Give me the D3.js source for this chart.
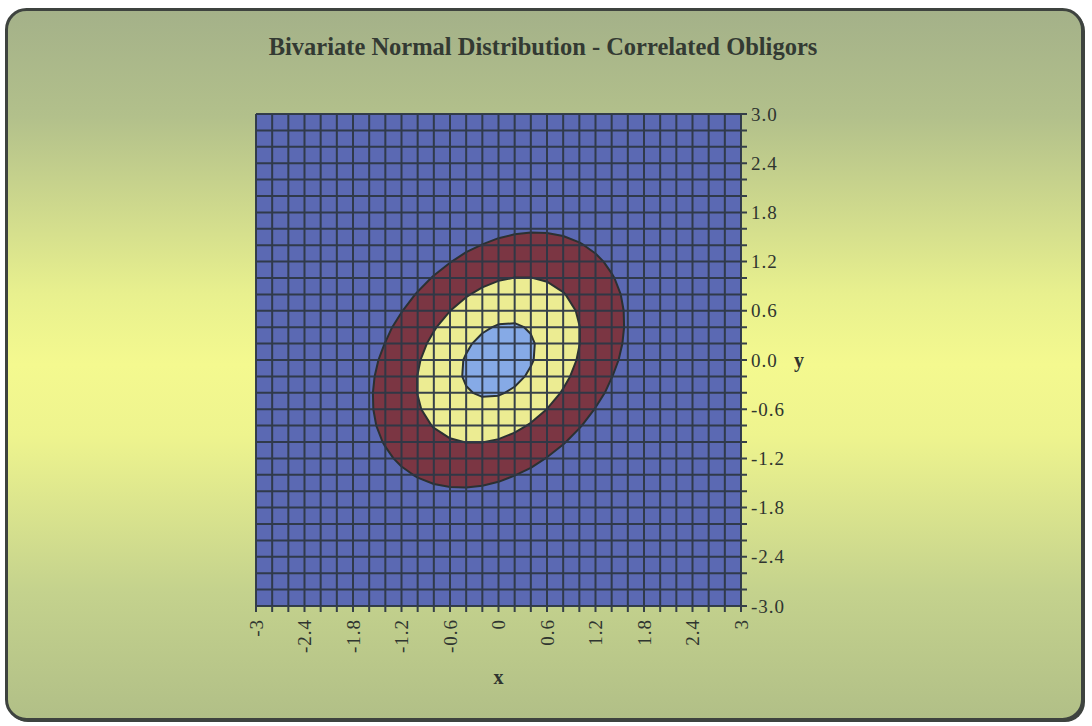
<!DOCTYPE html>
<html>
<head>
<meta charset="utf-8">
<script src="https://cdn.jsdelivr.net/npm/d3@7"></script>
<style>
  html, body { margin: 0; padding: 0; background: #ffffff; }
  svg { display: block; }
</style>
</head>
<body>
<svg id="chart" width="1092" height="726"></svg>
<script>
// Grid nodes on which the density surface is evaluated (step 0.2)
const gridX = [-3.0, -2.8, -2.6, -2.4, -2.2, -2.0, -1.8, -1.6, -1.4, -1.2, -1.0, -0.8, -0.6, -0.4, -0.2, 0.0,
               0.2, 0.4, 0.6, 0.8, 1.0, 1.2, 1.4, 1.6, 1.8, 2.0, 2.2, 2.4, 2.6, 2.8, 3.0];
const gridY = [3.0, 2.8, 2.6, 2.4, 2.2, 2.0, 1.8, 1.6, 1.4, 1.2, 1.0, 0.8, 0.6, 0.4, 0.2, 0.0,
               -0.2, -0.4, -0.6, -0.8, -1.0, -1.2, -1.4, -1.6, -1.8, -2.0, -2.2, -2.4, -2.6, -2.8, -3.0];

// Correlation between the two obligors' standard normal variables
const rho = 0.3;

// Contour band edges (density) and fill for each band, lowest first
const bandThresholds = [0.05, 0.10, 0.15];
const bandColors = ["#5b69b3", "#7b3643", "#ecec92", "#86aae6"];

// Axis tick labels
const xTickValues = [-3, -2.4, -1.8, -1.2, -0.6, 0, 0.6, 1.2, 1.8, 2.4, 3];
const xTickLabels = ["-3", "-2.4", "-1.8", "-1.2", "-0.6", "0", "0.6", "1.2", "1.8", "2.4", "3"];
const yTickValues = [3, 2.4, 1.8, 1.2, 0.6, 0, -0.6, -1.2, -1.8, -2.4, -3];
const yTickLabels = ["3.0", "2.4", "1.8", "1.2", "0.6", "0.0", "-0.6", "-1.2", "-1.8", "-2.4", "-3.0"];

const titleText = "Bivariate Normal Distribution - Correlated Obligors";

// ---------------------------------------------------------------------------
const W = 1092, H = 726;
const plot = { left: 256, right: 741, top: 114, bottom: 606 };

const svg = d3.select("#chart");
const defs = svg.append("defs");

// Panel background: green-grey at top and bottom, bright yellow through the middle
const bg = defs.append("linearGradient")
  .attr("id", "panelFill").attr("x1", 0).attr("y1", 0).attr("x2", 0).attr("y2", 1);
[["0%", "#a4b189"], ["15%", "#b2c08b"], ["40%", "#e8f08e"], ["50%", "#f4f98f"], ["60%", "#eef48e"], ["82%", "#c4d28d"], ["100%", "#b1bf87"]]
  .forEach(([o, c]) => bg.append("stop").attr("offset", o).attr("stop-color", c));

defs.append("clipPath").attr("id", "plotClip")
  .append("rect")
  .attr("x", plot.left).attr("y", plot.top)
  .attr("width", plot.right - plot.left).attr("height", plot.bottom - plot.top);

// Frame with a soft drop shadow on the right/bottom
svg.append("rect")
  .attr("x", 8).attr("y", 11).attr("width", 1077).attr("height", 711)
  .attr("rx", 20).attr("fill", "#3e433f");
svg.append("rect")
  .attr("x", 6.5).attr("y", 9.5).attr("width", 1076).attr("height", 710)
  .attr("rx", 20).attr("fill", "url(#panelFill)")
  .attr("stroke", "#3e433f").attr("stroke-width", 3);

// Scales
const x = d3.scaleLinear().domain([-3, 3]).range([plot.left, plot.right]);
const y = d3.scaleLinear().domain([-3, 3]).range([plot.bottom, plot.top]);

// Bivariate standard normal density with correlation rho
const norm = 1 / (2 * Math.PI * Math.sqrt(1 - rho * rho));
function density(u, v) {
  const q = (u * u - 2 * rho * u * v + v * v) / (1 - rho * rho);
  return norm * Math.exp(-q / 2);
}

const nx = gridX.length, ny = gridY.length;
const values = new Array(nx * ny);
gridY.forEach((v, j) => gridX.forEach((u, i) => { values[j * nx + i] = density(u, v); }));

// Contour grid coordinates: node i sits at i + 0.5
const gx = d3.scaleLinear().domain([0.5, nx - 0.5]).range([x(gridX[0]), x(gridX[nx - 1])]);
const gy = d3.scaleLinear().domain([0.5, ny - 0.5]).range([y(gridY[0]), y(gridY[ny - 1])]);
const path = d3.geoPath(d3.geoTransform({
  point(px, py) { this.stream.point(gx(px), gy(py)); }
}));

const contours = d3.contours().size([nx, ny]).thresholds(bandThresholds)(values);

const plotG = svg.append("g").attr("clip-path", "url(#plotClip)");

// Lowest band fills the whole plot
plotG.append("rect")
  .attr("x", plot.left).attr("y", plot.top)
  .attr("width", plot.right - plot.left).attr("height", plot.bottom - plot.top)
  .attr("fill", bandColors[0]);

plotG.selectAll("path.band")
  .data(contours)
  .join("path")
  .attr("class", "band")
  .attr("d", path)
  .attr("fill", (d, i) => bandColors[i + 1])
  .attr("stroke", "#2b3132")
  .attr("stroke-width", 2)
  .attr("stroke-linejoin", "round");

// Wireframe grid over the bands
const gridG = svg.append("g").attr("stroke", "#2e3846").attr("stroke-width", 2).attr("opacity", 0.95);
gridG.selectAll("line.vx")
  .data(gridX)
  .join("line")
  .attr("x1", d => x(d)).attr("x2", d => x(d))
  .attr("y1", plot.top).attr("y2", plot.bottom + 6);
gridG.selectAll("line.hy")
  .data(gridY)
  .join("line")
  .attr("x1", plot.left).attr("x2", plot.right + 6)
  .attr("y1", d => y(d)).attr("y2", d => y(d));

// Titles and tick labels
const serif = "'Liberation Serif', 'Times New Roman', serif";
const textColor = "#2f3530";

svg.append("text")
  .attr("x", 543).attr("y", 55)
  .attr("text-anchor", "middle")
  .attr("font-family", serif).attr("font-weight", "bold").attr("font-size", 24.5)
  .attr("fill", "#333a33")
  .text(titleText);

svg.append("g").selectAll("text")
  .data(yTickValues)
  .join("text")
  .attr("x", plot.right + 10)
  .attr("y", d => y(d))
  .attr("dy", "0.35em")
  .attr("font-family", serif).attr("font-size", 19)
  .attr("letter-spacing", 1)
  .attr("fill", textColor)
  .text((d, i) => yTickLabels[i]);

svg.append("g").selectAll("text")
  .data(xTickValues)
  .join("text")
  .attr("transform", d => `translate(${x(d)},${plot.bottom + 13}) rotate(-90)`)
  .attr("text-anchor", "end")
  .attr("dy", "0.35em")
  .attr("font-family", serif).attr("font-size", 19)
  .attr("letter-spacing", 1)
  .attr("fill", textColor)
  .text((d, i) => xTickLabels[i]);

svg.append("text")
  .attr("x", (plot.left + plot.right) / 2).attr("y", 684)
  .attr("text-anchor", "middle")
  .attr("font-family", serif).attr("font-weight", "bold").attr("font-size", 20)
  .attr("fill", textColor)
  .text("x");

svg.append("text")
  .attr("x", 799).attr("y", y(0))
  .attr("dy", "0.35em")
  .attr("text-anchor", "middle")
  .attr("font-family", serif).attr("font-weight", "bold").attr("font-size", 20)
  .attr("fill", textColor)
  .text("y");
</script>
</body>
</html>
